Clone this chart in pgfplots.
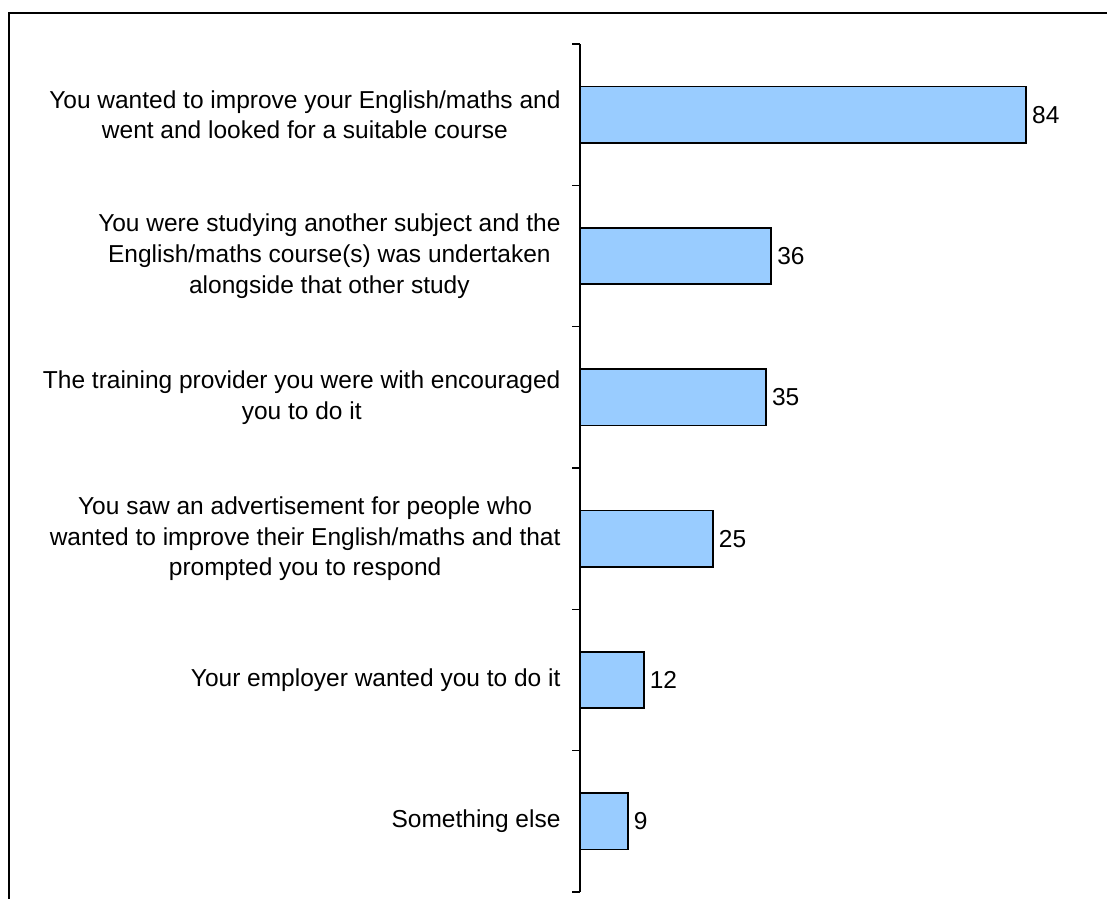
\documentclass[border=0pt]{standalone}
\usepackage{fontspec}
\setmainfont{Liberation Sans}
\usepackage{pgfplots}
\pgfplotsset{compat=1.18}
\definecolor{barblue}{RGB}{153,204,255}
\begin{document}
\begin{tikzpicture}
\useasboundingbox (0pt,0pt) rectangle (1107pt,898pt);
\draw[line width=1.8pt] (9pt,-10pt) -- (9pt,885pt) -- (1120pt,885pt);
\begin{axis}[
  at={(580pt,6pt)}, anchor=south west,
  scale only axis,
  width=504.5pt, height=848pt,
  xmin=0, xmax=95,
  ymin=-0.5, ymax=5.5,
  y dir=reverse,
  axis x line=none,
  axis y line*=left,
  axis line style={line width=1.6pt},
  xbar, bar width=0.4,
  ytick={0,1,2,3,4,5},
  minor ytick={-0.5,0.5,1.5,2.5,3.5,4.5,5.5},
  major tick length=0pt,
  minor tick length=8pt,
  tick align=outside,
  minor tick style={line width=1.6pt, black},
  /pgf/number format/assume math mode=true,
  yticklabels={
    {You wanted to improve your English/maths and\\went and looked for a suitable course},
    {You were studying another subject and the\\English/maths course(s) was undertaken\\alongside that other study},
    {The training provider you were with encouraged\\you to do it},
    {You saw an advertisement for people who\\wanted to improve their English/maths and that\\prompted you to respond},
    {Your employer wanted you to do it},
    {Something else}
  },
  yticklabel style={align=center, font=\fontsize{24.5}{30.7}\selectfont, xshift=-16pt},
  nodes near coords,
  every node near coord/.append style={font=\fontsize{24.5}{30.7}\selectfont, black, xshift=2pt},
  clip=false,
]
\addplot[fill=barblue, draw=black, line width=1.6pt] coordinates {
  (84,0) (36,1) (35,2) (25,3) (12,4) (9,5)
};
\end{axis}
\end{tikzpicture}
\end{document}
